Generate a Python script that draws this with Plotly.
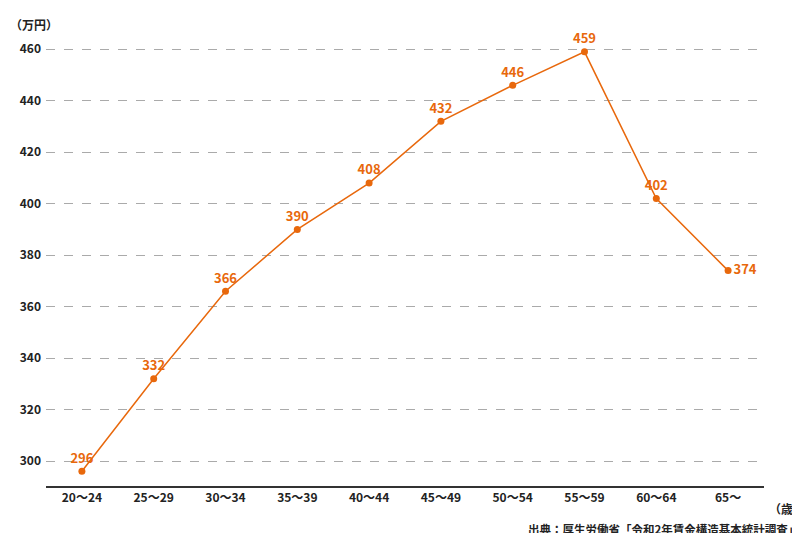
import plotly.graph_objects as go

ages = ["20〜24","25〜29","30〜34","35〜39","40〜44","45〜49","50〜54","55〜59","60〜64","65〜"]
income = [296,332,366,390,408,432,446,459,402,374]
yticks = [300,320,340,360,380,400,420,440,460]
orange = "#e8680c"
font = "Noto Sans CJK JP"

positions = ["top center"]*9 + ["middle right"]
fig = go.Figure(go.Scatter(
    x=ages, y=income, mode="lines+markers+text",
    line=dict(color=orange, width=1.5),
    marker=dict(color=orange, size=7),
    text=[str(v) for v in income], textposition=positions,
    textfont=dict(color=orange, size=13, family=font, weight="bold"),
    cliponaxis=False, hoverinfo="skip"))

fig.update_layout(
    width=800, height=533, margin=dict(l=38, r=44, t=40, b=55, autoexpand=False),
    plot_bgcolor="white", paper_bgcolor="white", showlegend=False,
    font=dict(family=font, color="#222", size=12),
    xaxis=dict(type="category", range=[-0.5, 9.5], showgrid=False, automargin=False,
               showline=True, linecolor="#333", linewidth=1.5, ticks="",
               tickfont=dict(size=12, weight="bold")),
    yaxis=dict(range=[290.3, 460.5], tickvals=yticks, showline=False, automargin=False,
               gridcolor="#aaa", griddash="dash", gridwidth=1, zeroline=False,
               tickfont=dict(size=12, weight="bold"), ticklabelstandoff=4),
    annotations=[
        dict(text="（万円）", xref="paper", yref="paper", x=-0.053, y=1.0, yshift=24,
             xanchor="left", yanchor="middle", showarrow=False, font=dict(size=12, weight="bold")),
        dict(text="（歳）", xref="paper", yref="paper", x=1.004, y=0, yshift=-22,
             xanchor="left", yanchor="middle", showarrow=False, font=dict(size=12, weight="bold")),
        dict(text="出典：厚生労働省「令和2年賃金構造基本統計調査」", xref="paper", yref="paper",
             x=1.052, y=0, yshift=-43, xanchor="right", yanchor="middle", showarrow=False,
             font=dict(size=11.5, weight="bold")),
    ])
fig.write_html("out.html")
